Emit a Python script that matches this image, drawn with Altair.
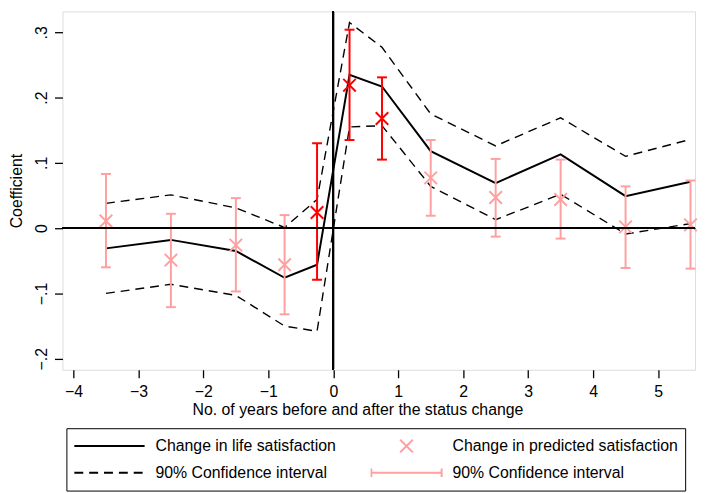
import altair as alt
import pandas as pd

# ---- data ----
years = [-3.5, -2.5, -1.5, -0.75, -0.25, 0.25, 0.75, 1.5, 2.5, 3.5, 4.5, 5.5]
life_sat = [-0.031, -0.018, -0.035, -0.076, -0.056, 0.235, 0.217, 0.118, 0.069, 0.113, 0.049, 0.071]
life_hi = [0.038, 0.051, 0.031, 0.001, 0.044, 0.315, 0.277, 0.175, 0.126, 0.169, 0.110, 0.136]
life_lo = [-0.100, -0.086, -0.103, -0.150, -0.158, 0.155, 0.157, 0.064, 0.013, 0.052, -0.009, 0.007]
pred_sat = [0.011, -0.049, -0.026, -0.056, 0.024, 0.219, 0.168, 0.077, 0.047, 0.044, 0.002, 0.005]
pred_hi = [0.083, 0.022, 0.046, 0.020, 0.130, 0.304, 0.231, 0.135, 0.106, 0.105, 0.064, 0.073]
pred_lo = [-0.060, -0.121, -0.097, -0.132, -0.079, 0.135, 0.105, 0.019, -0.013, -0.016, -0.061, -0.062]
highlight = [False, False, False, False, True, True, True, False, False, False, False, False]

x_ticks = [-4, -3, -2, -1, 0, 1, 2, 3, 4, 5]
y_ticks = [-0.2, -0.1, 0, 0.1, 0.2, 0.3]

# legend entries (column-major order: column 1 = lines, column 2 = predicted)
legend_keys = [
    "Change in life satisfaction",
    "90% Confidence interval (line)",
    "Change in predicted satisfaction",
    "90% Confidence interval (bar)",
]

PINK = "#FFA0A0"
RED = "#FF0000"
FONT = "Liberation Sans"

legend_colors = ["black", "black", PINK, PINK]
legend_shapes = [
    "M-1,0H1",
    "M-1,0H1",
    "M-0.18,-0.18L0.18,0.18M-0.18,0.18L0.18,-0.18",
    "M-1,0H1M-1,-0.12V0.12M1,-0.12V0.12",
]
legend_dashes = [[1, 0], [9, 6], [1, 0], [1, 0]]

df = pd.DataFrame({
    "year": years,
    "life": life_sat,
    "life_hi": life_hi,
    "life_lo": life_lo,
    "pred": pred_sat,
    "pred_hi": pred_hi,
    "pred_lo": pred_lo,
    "hl": highlight,
})

xscale = alt.Scale(domain=[-4.17, 5.57], nice=False, zero=False)
yscale = alt.Scale(domain=[-0.217, 0.332], nice=False, zero=False)

xaxis = alt.Axis(
    values=x_ticks, format="d", title="No. of years before and after the status change",
    grid=False, domain=False, tickSize=8, tickWidth=1.3, tickColor="black",
    labelFontSize=16, labelColor="black", labelPadding=6, labelFont=FONT,
    titleFontSize=16, titleFontWeight="normal", titleColor="black", titleFont=FONT,
    titlePadding=2, titleX=298, titleAlign="center",
)
yaxis = alt.Axis(
    values=y_ticks, title="Coefficient",
    labelExpr="datum.value == 0 ? '0' : (datum.value > 0 ? '.' : '\u2212.') + round(abs(datum.value) * 10)",
    labelAngle=270, labelAlign="center", labelBaseline="alphabetic",
    grid=False, domain=False, tickSize=8, tickWidth=1.3, tickColor="black",
    labelFontSize=16, labelColor="black", labelPadding=8, labelFont=FONT,
    titleFontSize=16, titleFontWeight="normal", titleColor="black", titleFont=FONT,
    titlePadding=9,
)

X = alt.X("year:Q", scale=xscale, axis=xaxis)

base = alt.Chart(df)

upper = base.mark_line(color="black", strokeWidth=1.4, strokeDash=[9, 6]).encode(
    x=X, y=alt.Y("life_hi:Q", scale=yscale, axis=yaxis))
lower = base.mark_line(color="black", strokeWidth=1.4, strokeDash=[9, 6]).encode(
    x=X, y=alt.Y("life_lo:Q", scale=yscale, axis=yaxis))
solid = base.mark_line(color="black", strokeWidth=2).encode(
    x=X, y=alt.Y("life:Q", scale=yscale, axis=yaxis))

bar_color = alt.condition("datum.hl", alt.value(RED), alt.value(PINK))
bars = base.mark_rule(strokeWidth=2).encode(
    x=X, y=alt.Y("pred_lo:Q", scale=yscale, axis=yaxis), y2="pred_hi:Q", color=bar_color)
cap_hi = base.mark_tick(orient="horizontal", size=10, thickness=2, opacity=1).encode(
    x=X, y=alt.Y("pred_hi:Q", scale=yscale, axis=yaxis), color=bar_color)
cap_lo = base.mark_tick(orient="horizontal", size=10, thickness=2, opacity=1).encode(
    x=X, y=alt.Y("pred_lo:Q", scale=yscale, axis=yaxis), color=bar_color)
marks = base.mark_point(
    shape="M-1,-1L1,1M-1,1L1,-1", size=160, filled=False, strokeWidth=2, opacity=1
).encode(x=X, y=alt.Y("pred:Q", scale=yscale, axis=yaxis), color=bar_color)

hline = alt.Chart(df).mark_rule(color="black", strokeWidth=1.5).encode(
    y=alt.datum(0, scale=yscale))
vline = alt.Chart(df).mark_rule(color="black", strokeWidth=1.5).encode(
    x=alt.datum(0, scale=xscale))

# legend carrier (points are outside the x domain and clipped away)
leg_df = pd.DataFrame({"key": legend_keys, "year": [100, 100, 100, 100], "val": [0, 0, 0, 0]})
leg = alt.Legend(
    title=None, orient="none", legendX=4, legendY=421, columns=2,
    columnPadding=34, rowPadding=5, padding=7, clipHeight=22,
    symbolSize=5041, symbolStrokeWidth=2, labelOffset=10,
    labelFontSize=16, labelFont=FONT, labelColor="black", labelLimit=400,
    strokeColor="black",
    labelExpr="split(datum.label, ' (')[0]",
)
legend_layer = alt.Chart(leg_df).mark_point(clip=True, opacity=1, filled=False, strokeWidth=2).encode(
    x=alt.X("year:Q", scale=xscale, axis=xaxis),
    y=alt.Y("val:Q", scale=yscale, axis=yaxis),
    color=alt.Color("key:N", scale=alt.Scale(domain=legend_keys, range=legend_colors), legend=leg),
    shape=alt.Shape("key:N", scale=alt.Scale(domain=legend_keys, range=legend_shapes), legend=leg),
    strokeDash=alt.StrokeDash("key:N", scale=alt.Scale(domain=legend_keys, range=legend_dashes), legend=leg),
)

chart = alt.layer(
    upper, lower, solid, bars, cap_hi, cap_lo, marks, hline, vline, legend_layer
).properties(
    width=639, height=362, padding=0,
).configure_view(
    stroke="black", strokeWidth=1.5,
).configure_legend(
    strokeWidth=1.2,
).configure(
    font=FONT, background="white",
)

chart.save("out.html", embed_options={"renderer": "svg", "actions": False})
